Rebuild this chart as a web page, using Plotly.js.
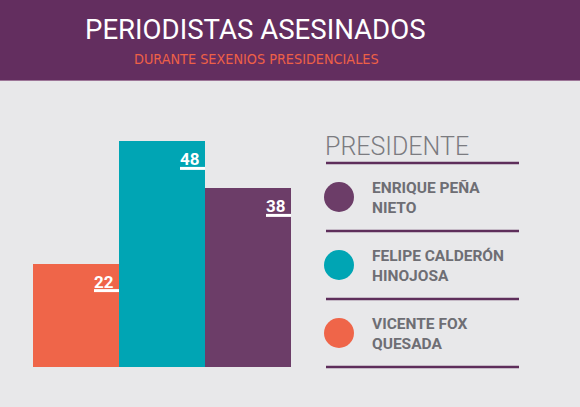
<!DOCTYPE html>
<html>
<head>
<meta charset="utf-8">
<script src="https://cdn.plot.ly/plotly-3.0.1.min.js"></script>
<style>html,body{margin:0;padding:0;background:#e8e8ea;}#chart{width:580px;height:407px;}</style>
</head>
<body>
<div id="chart"></div>
<script>
// ---- data ----
const categories = ['VICENTE FOX QUESADA', 'FELIPE CALDERÓN HINOJOSA', 'ENRIQUE PEÑA NIETO'];
const killed = [22, 48, 38];
const legendOrder = [2, 1, 0];
const legendLabels = ['ENRIQUE PEÑA<br>NIETO', 'FELIPE CALDERÓN<br>HINOJOSA', 'VICENTE FOX<br>QUESADA'];
const titleText = 'PERIODISTAS ASESINADOS';
const subtitleText = 'DURANTE SEXENIOS PRESIDENCIALES';
const legendTitle = 'PRESIDENTE';

// ---- styles ----
const barColors = ['#ef6549', '#00a5b4', '#6c3d68'];
const headerColor = '#632e5f';
const bgColor = '#e8e8ea';
const textGray = '#6e6e74';
const lineColor = '#5e2e5b';

const W = 580, H = 407;
const M = {l: 33, r: 289, t: 100, b: 40};
const plotW = W - M.l - M.r, plotH = H - M.t - M.b;
const px = x => (x - M.l) / plotW;
const py = y => (H - M.b - y) / plotH;

const shapes = [];
const annotations = [];

// header band
shapes.push({type: 'rect', xref: 'paper', yref: 'paper', x0: px(0), x1: px(W), y0: py(80), y1: py(0),
  fillcolor: headerColor, line: {width: 0}, layer: 'below'});
shapes.push({type: 'line', xref: 'paper', yref: 'paper', x0: px(0), x1: px(W), y0: py(80.5), y1: py(80.5),
  line: {color: '#9d7698', width: 1}});

annotations.push({text: titleText, xref: 'paper', yref: 'paper', x: px(255), y: py(29), xanchor: 'center', yanchor: 'middle',
  showarrow: false, font: {family: 'Roboto, sans-serif', size: 27.6, color: '#ffffff'}});
annotations.push({text: subtitleText, xref: 'paper', yref: 'paper', x: px(256), y: py(59.5), xanchor: 'center', yanchor: 'middle',
  showarrow: false, font: {family: '"DejaVu Sans Condensed", "DejaVu Sans", sans-serif', size: 14.3, color: '#ee6047'}});

// value labels + underlines
killed.forEach((v, i) => {
  annotations.push({text: '<b>' + v + '</b>', xref: 'x', yref: 'y', x: i + 0.5, y: v, xanchor: 'left', yanchor: 'top',
    xshift: -27, yshift: -6, showarrow: false,
    font: {family: 'Roboto, sans-serif', size: 17, color: '#ffffff'}});
  shapes.push({type: 'rect', xref: 'x', yref: 'y', xsizemode: 'pixel', ysizemode: 'pixel',
    xanchor: i + 0.5, yanchor: v, x0: -25, x1: 0, y0: -25.5, y1: -28.5,
    fillcolor: '#ffffff', line: {width: 0}});
});

// legend
annotations.push({text: legendTitle, xref: 'paper', yref: 'paper', x: px(323), y: py(146), xanchor: 'left', yanchor: 'middle',
  showarrow: false, font: {family: 'Roboto, sans-serif', size: 25, weight: 300, color: '#7b7b80'}});
[163, 231, 299, 367].forEach(yy => {
  shapes.push({type: 'line', xref: 'paper', yref: 'paper', x0: px(326), x1: px(519), y0: py(yy), y1: py(yy),
    line: {color: lineColor, width: 2.5}});
});
legendOrder.forEach((ci, k) => {
  const cy = 197 + k * 68;
  shapes.push({type: 'circle', xref: 'paper', yref: 'paper', x0: px(324), x1: px(354), y0: py(cy + 15), y1: py(cy - 15),
    fillcolor: barColors[ci], line: {width: 0}});
  annotations.push({text: '<b>' + legendLabels[k] + '</b>', xref: 'paper', yref: 'paper', x: px(370), y: py(cy + 1),
    xanchor: 'left', yanchor: 'middle', align: 'left', showarrow: false,
    font: {family: 'Roboto, sans-serif', size: 15.5, color: textGray}});
});

const trace = {
  type: 'bar', x: [0, 1, 2], y: killed, text: categories, hoverinfo: 'text+y',
  marker: {color: barColors, line: {width: 0}}, textposition: 'none'
};

const layout = {
  width: W, height: H, margin: M,
  paper_bgcolor: bgColor, plot_bgcolor: bgColor,
  bargap: 0, showlegend: false,
  xaxis: {range: [-0.5, 2.5], visible: false, fixedrange: true},
  yaxis: {range: [0, plotH / 4.7], visible: false, fixedrange: true},
  shapes: shapes, annotations: annotations
};

Plotly.newPlot('chart', [trace], layout, {displayModeBar: false, staticPlot: true});
</script>
</body>
</html>
